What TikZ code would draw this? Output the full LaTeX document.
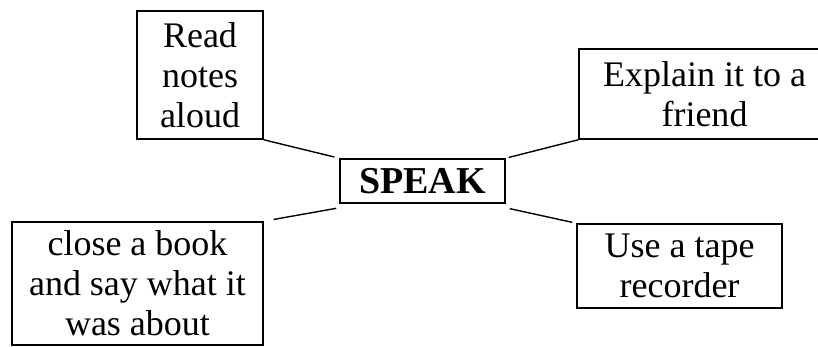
\documentclass[tikz,border=0pt]{standalone}
\usepackage{fontspec}
\setmainfont{Liberation Serif}
\begin{document}
\begin{tikzpicture}[x=1pt,y=-1pt,
  box/.style={draw=black,line width=1.6pt,inner sep=0pt,align=center,
    font=\fontsize{36}{40}\selectfont},
  conn/.style={line width=1.4pt}]
\useasboundingbox (0,0) rectangle (818,347);
\clip (0,0) rectangle (818,347);
\fill[white] (0,0) rectangle (818,347);
\node[box,minimum width=126pt,minimum height=128pt] (read) at (200,75) {Read\\notes\\aloud};
\node[box,minimum width=251pt,minimum height=90pt] (explain) at (704.5,94) {Explain it to a\\friend};
\node[box,minimum width=165pt,minimum height=44pt,font=\fontsize{38}{40}\selectfont\bfseries] (speak) at (422.5,181) {SPEAK};
\node[box,minimum width=251pt,minimum height=123pt] (close) at (137.5,283.5) {close a book\\and say what it\\was about};
\node[box,minimum width=205pt,minimum height=84pt] (use) at (679.5,266) {Use a tape\\recorder};
\draw[conn,shorten >=5pt] (read.south east) -- (speak.north west);
\draw[conn,shorten <=3pt] (speak.north east) -- (explain.south west);
\draw[conn,shorten <=4pt,shorten >=4pt] ([yshift=-4pt]speak.south east) -- (use.north west);
\draw[conn,shorten <=3pt,shorten >=10pt] ([yshift=-4pt]speak.south west) -- (close.north east);
\end{tikzpicture}
\end{document}
